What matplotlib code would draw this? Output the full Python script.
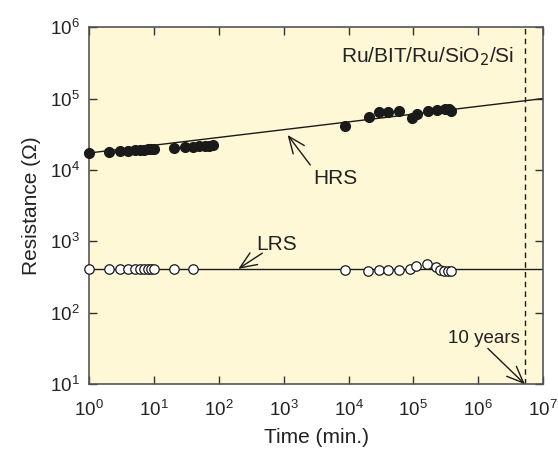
import matplotlib
matplotlib.use("Agg")
import matplotlib.pyplot as plt
import numpy as np

plt.rcParams['font.family'] = ['Liberation Sans', 'DejaVu Sans']

# HRS data (filled)
hrs_t = [1, 2, 3, 4, 5, 6, 7, 8, 9, 10, 20, 30, 40, 50, 60, 70, 80,
         8.7e3, 2.05e4, 3.0e4, 4.1e4, 6.1e4, 9.4e4, 1.15e5, 1.7e5, 2.3e5, 3.1e5, 3.5e5, 3.8e5]
hrs_r = [17500, 18000, 18200, 18600, 18800, 19000, 19200, 19400, 19600, 19800, 20300, 20800,
         21200, 21500, 21800, 22000, 22300,
         41500, 56000, 64500, 65000, 66500, 54000, 60000, 66000, 69000, 71000, 71000, 67000]

# LRS data (open)
lrs_t = [1, 2, 3, 4, 5, 6, 7, 8, 9, 10, 20, 40,
         8.7e3, 2.0e4, 3.0e4, 4.0e4, 6.0e4, 9.0e4, 1.1e5, 1.6e5, 2.2e5, 2.6e5, 3.0e5, 3.4e5, 3.8e5]
lrs_r = [410, 410, 410, 410, 410, 410, 410, 410, 410, 410, 410, 410,
         395, 390, 395, 400, 400, 405, 450, 480, 440, 400, 385, 385, 385]

# fitted lines
fit_t = [1, 1e7]
hrs_fit = [17300, 100000]
lrs_fit = [410, 410]

ten_years = 5.256e6
xticks = [1e0, 1e1, 1e2, 1e3, 1e4, 1e5, 1e6, 1e7]
yticks = [1e1, 1e2, 1e3, 1e4, 1e5, 1e6]

fig = plt.figure(figsize=(5.58, 4.53), dpi=100)
ax = fig.add_axes([0.160, 0.152, 0.813, 0.788])
ax.set_facecolor('#fff8d6')

ax.plot(fit_t, hrs_fit, color='#1a1a1a', lw=1.0, zorder=2)
ax.plot(fit_t, lrs_fit, color='#1a1a1a', lw=1.0, zorder=2)
ax.plot(hrs_t, hrs_r, 'o', ms=7, mfc='#1a1a1a', mec='#1a1a1a', zorder=3, clip_on=False)
ax.plot(lrs_t, lrs_r, 'o', ms=6.8, mfc='white', mec='#1a1a1a', mew=0.9, zorder=3, clip_on=False)
ax.axvline(ten_years, color='#1a1a1a', lw=1.0, ls=(0, (4, 3)), zorder=2)

ax.set_xscale('log')
ax.set_yscale('log')
ax.set_xlim(1, 1e7)
ax.set_ylim(10, 1e6)
ax.set_xticks(xticks)
ax.set_yticks(yticks)
ax.minorticks_off()
ax.tick_params(which='both', direction='in', length=6, width=1, top=True, right=True,
               labelsize=13.5, color='#333333', labelcolor='#222222')
ax.tick_params(axis='x', pad=11)
ax.tick_params(axis='y', pad=7)
for s in ax.spines.values():
    s.set_color('#555555')
    s.set_linewidth(1.2)

ax.set_xlabel('Time (min.)', fontsize=15, labelpad=6, color='#222222')
ax.set_ylabel('Resistance (Ω)', fontsize=15, labelpad=6, color='#222222')

arrowprops = dict(arrowstyle='->,head_length=0.6,head_width=0.25', color='#1a1a1a',
                  lw=1.0, mutation_scale=20, shrinkA=0, shrinkB=0)
ax.text(10**3.80, 10**3.885, 'HRS', fontsize=15, ha='center', va='center', color='#222222')
ax.annotate('', xy=(10**3.06, 10**4.49), xytext=(10**3.41, 10**4.07), arrowprops=arrowprops)
ax.text(10**2.89, 10**2.96, 'LRS', fontsize=15, ha='center', va='center', color='#222222')
ax.annotate('', xy=(10**2.3, 10**2.615), xytext=(10**2.67, 10**2.835), arrowprops=arrowprops)
ax.text(10**6.09, 10**1.64, '10 years', fontsize=13.5, ha='center', va='center', color='#222222')
ax.annotate('', xy=(ten_years, 10), xytext=(10**6.15, 10**1.50), arrowprops=arrowprops,
            annotation_clip=False)
ax.text(10**6.56, 10**5.58, 'Ru/BIT/Ru/SiO$_2$/Si', fontsize=15, ha='right', va='center',
        color='#222222')

fig.savefig('out.png', dpi=100, facecolor='white')
